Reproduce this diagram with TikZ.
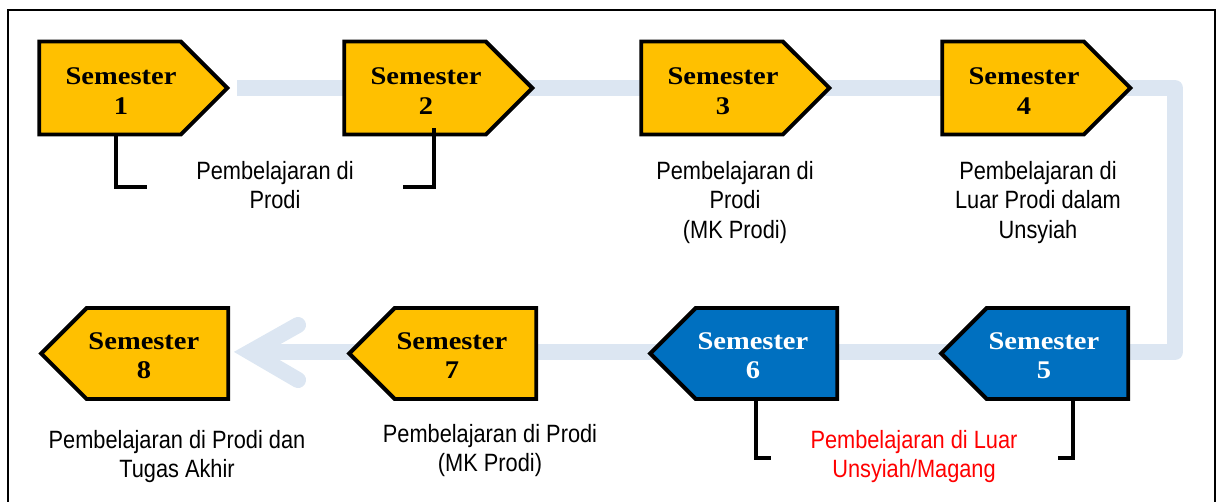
\documentclass[tikz,border=0pt]{standalone}
\usepackage{fontspec}
\setmainfont{Liberation Sans}
\newfontfamily\semfont[FakeStretch=1.12]{Liberation Serif}
\newfontfamily\capfont[FakeStretch=0.87]{Liberation Sans}
\usepackage{tikz}
\usetikzlibrary{shapes.symbols, positioning, calc, backgrounds}

\definecolor{semgold}{RGB}{255,192,0}
\definecolor{semblue}{RGB}{0,112,192}
\definecolor{flowblue}{RGB}{220,230,242}

\begin{document}
\begin{tikzpicture}[
        x=0.025cm, y=-0.025cm,
        node distance=0.575cm,
        semester/.style={signal, signal pointer angle=90, draw=black, line width=2.8pt, inner sep=0pt},
        upper/.style={semester, signal to=east, minimum width=4.7cm, minimum height=2.325cm},
        lower/.style={semester, signal to=west, minimum width=4.675cm, minimum height=2.275cm},
        semtext/.style={font=\semfont\bfseries\fontsize{18.1pt}{21pt}\selectfont, align=center, inner sep=0pt},
        caption/.style={font=\capfont\fontsize{17.8pt}{21pt}\selectfont, align=center, inner sep=0pt},
        bracket/.style={line width=2.6pt},
        flow/.style={draw=flowblue, line width=11.4pt}
    ]
        \useasboundingbox (0,0) rectangle (1218,501);
        \draw[line width=1.6pt] (8,10) rectangle (1215,520);

        % Semesters
        \node[upper, fill=semgold] (s1) at (110,88) {};
        \node[upper, fill=semgold] (s2) at (415,88) {};
        \node[upper, fill=semgold] (s3) at (712,88) {};
        \node[upper, fill=semgold] (s4) at (1013,88) {};
        \node[lower, fill=semblue] (s5) at (1057.5,353.5) {};
        \node[lower, fill=semblue] (s6) at (766.5,353.5) {};
        \node[lower, fill=semgold] (s7) at (465.5,353.5) {};
        \node[lower, fill=semgold] (s8) at (157.5,353.5) {};

        \node[semtext] (t1) at ([xshift=0.275cm, yshift=-0.075cm]s1.center) {Semester\\1};
        \node[semtext] (t2) at ([xshift=0.275cm, yshift=-0.075cm]s2.center) {Semester\\2};
        \node[semtext] (t3) at ([xshift=0.275cm, yshift=-0.075cm]s3.center) {Semester\\3};
        \node[semtext] (t4) at ([xshift=0.275cm, yshift=-0.075cm]s4.center) {Semester\\4};
        \node[semtext, text=white] (t5) at ([xshift=-0.34cm, yshift=-0.05cm]s5.center) {Semester\\5};
        \node[semtext, text=white] (t6) at ([xshift=-0.34cm, yshift=-0.05cm]s6.center) {Semester\\6};
        \node[semtext] (t7) at ([xshift=-0.34cm, yshift=-0.05cm]s7.center) {Semester\\7};
        \node[semtext] (t8) at ([xshift=-0.34cm, yshift=-0.05cm]s8.center) {Semester\\8};

        % Captions
        \node[caption, anchor=north] (c12) at (275,161) {Pembelajaran di\\Prodi};
        \node[caption, anchor=north] (c3) at (735,161) {Pembelajaran di\\Prodi\\(MK Prodi)};
        \node[caption, anchor=north] (c4) at (1038,161) {Pembelajaran di\\Luar Prodi dalam\\Unsyiah};
        \node[caption, anchor=north] (c8) at (177,430) {Pembelajaran di Prodi dan\\Tugas Akhir};
        \node[caption, anchor=north] (c7) at (490,424) {Pembelajaran di Prodi\\(MK Prodi)};
        \node[caption, anchor=north, text=red] (c56) at (914,430) {Pembelajaran di Luar\\Unsyiah/Magang};

        % Brackets
        \coordinate (b1) at (116,187);
        \coordinate (b2) at (434,187);
        \coordinate (b6) at (756,458);
        \coordinate (b5) at (1073,458);
        \draw[bracket] (b1 |- s1.south) -- (b1) -- ++(31,0);
        \draw[bracket] ($(b2 |- s2.south)+(0,-8)$) -- (b2) -- ++(-31,0);
        \draw[bracket] (b6 |- s6.south) -- (b6) -- ++(15,0);
        \draw[bracket] (b5 |- s5.south) -- (b5) -- ++(-15,0);

        % Flow
        \begin{scope}[on background layer]
            \coordinate (ne) at (1175,88);
            \coordinate (se) at (1175,352);
            \coordinate (tip) at (250,352);
            \draw[flow, line join=round] ([xshift=0.175cm]s1.east) -- (ne) -- (se) -- (tip);
            \draw[flow, line cap=round] ($(tip)+(48,-27)$) -- (tip) -- ($(tip)+(48,28)$);
        \end{scope}
    \end{tikzpicture}
\end{document}
